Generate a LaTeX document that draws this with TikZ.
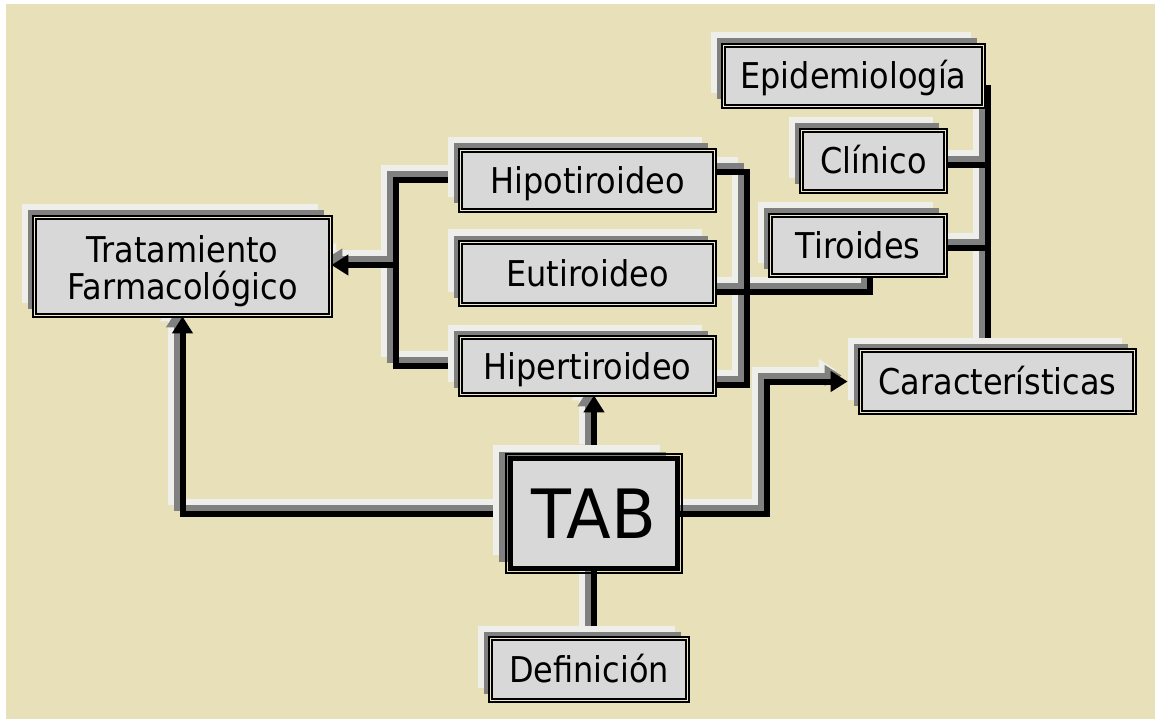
\documentclass[tikz,border=0pt]{standalone}
\usepackage{fontspec}
\setmainfont{DejaVu Sans}[FakeStretch=0.9]
\newfontfamily\tabfont{DejaVu Sans}[FakeStretch=0.96]
\usetikzlibrary{arrows.meta,shadows}
\definecolor{bgbeige}{RGB}{232,224,184}
\definecolor{boxgray}{RGB}{216,216,216}
\definecolor{shgray}{RGB}{128,128,128}
\definecolor{shwhite}{RGB}{238,238,234}
\definecolor{gapcol}{RGB}{240,234,204}
\pgfdeclarelayer{back}
\pgfdeclarelayer{bg}
\pgfsetlayers{back,bg,main}
\tikzset{
  box/.style={draw=black, line width=1.8pt, double=gapcol, double distance=1.4pt,
    fill=boxgray, inner sep=0pt, font=\fontsize{35.5}{37}\selectfont,
    copy shadow={shadow xshift=-13pt, shadow yshift=13pt, fill=shwhite, draw=none},
    copy shadow={shadow xshift=-7pt, shadow yshift=7pt, fill=shgray, draw=none}},
  lbl/.style={text height=26pt, text depth=0pt},
  tabbox/.style={draw=black, line width=5pt, fill=boxgray, inner sep=0pt,
    font=\tabfont\fontsize{68}{78}\selectfont, text height=50pt, text depth=0pt,
    copy shadow={shadow xshift=-18pt, shadow yshift=14pt, fill=shwhite, draw=none},
    copy shadow={shadow xshift=-12pt, shadow yshift=7pt, fill=shgray, draw=none}},
  tip/.style={-{Triangle[length=17pt,width=20pt]}},
  conn/.style={line width=6pt}
}
\newcommand\myconns[1]{%
  \draw[conn,#1] (hypo.west) -| (jA) |- (hyper.west);
  \draw[conn,tip,#1] (jA) -- (jA -| trat.east);
  \draw[conn,#1] (hypoE) -| (jB) |- (hyperE);
  \draw[conn,#1] (euE) -| (tirS);
  \draw[conn,#1] (epiE) -| (jD);
  \draw[conn,#1] (cliE) -- (cliE -| jD);
  \draw[conn,#1] (tirE) -- (tirE -| jD);
  \draw[conn,tip,#1] (tab.east) -| (jE) -- (carW);
  \draw[conn,tip,#1] (tab.west) -| (trat.south);
  \draw[conn,tip,#1] (tab.north) -- (tab.north |- hyper.south);
  \draw[conn,#1] (tab.south) -- (tab.south |- def.north);
}
\begin{document}
\begin{tikzpicture}[x=1pt,y=-1pt]
\useasboundingbox (0,0) rectangle (1155,719);
\begin{pgfonlayer}{back}
\fill[white] (0,0) rectangle (1155,719);
\fill[bgbeige] (6,4) rectangle (1155,719);
\end{pgfonlayer}

\node[box, minimum width=296pt, minimum height=98pt, align=center] (trat) at (182.5,266.5) {\rule{0pt}{37pt}Tratamiento\\Farmacológico};
\node[box,lbl, minimum width=254pt, minimum height=60pt] (hypo) at (587.5,180.5) {Hipotiroideo};
\node[box,lbl, minimum width=254pt, minimum height=62pt] (eu) at (587.5,273.5) {Eutiroideo};
\node[box,lbl, minimum width=254pt, minimum height=57pt] (hyper) at (587.5,366) {Hipertiroideo};
\node[box,lbl, minimum width=260pt, minimum height=61pt] (epi) at (853.5,76) {Epidemiología};
\node[box,lbl, minimum width=144pt, minimum height=61pt] (cli) at (873.5,161) {Clínico};
\node[box,lbl, minimum width=175pt, minimum height=60pt] (tir) at (858,245.5) {Tiroides};
\node[box,lbl, minimum width=274pt, minimum height=62pt] (car) at (997.5,381.5) {Características};
\node[box,lbl, minimum width=197pt, minimum height=62pt] (def) at (589,669.5) {Definición};
\node[tabbox, minimum width=167pt, minimum height=110pt] (tab) at (594,513.5) {TAB};
\draw[line width=2pt] ([shift={(-2,-2)}]tab.north west) rectangle ([shift={(2,2)}]tab.south east);

\coordinate (jA) at (396,265);
\coordinate (jB) at (747,292);
\coordinate (hypoE) at ([yshift=8.5pt]hypo.east);
\coordinate (hyperE) at ([yshift=-19pt]hyper.east);
\coordinate (euE) at ([yshift=-18.5pt]eu.east);
\coordinate (tirS) at ([xshift=12pt]tir.south);
\coordinate (epiE) at ([yshift=-12pt]epi.east);
\coordinate (cliE) at ([yshift=-4pt]cli.east);
\coordinate (tirE) at ([yshift=-2.5pt]tir.east);
\coordinate (jD) at ([xshift=-9.5pt]car.north);
\coordinate (jE) at (767,381.5);
\coordinate (carW) at ([xshift=-12pt]car.west);

\begin{pgfonlayer}{bg}
\myconns{draw=shwhite, transform canvas={xshift=-12pt,yshift=12pt}}
\myconns{draw=shgray, transform canvas={xshift=-6pt,yshift=6pt}}
\myconns{draw=black}
\end{pgfonlayer}
\end{tikzpicture}
\end{document}
